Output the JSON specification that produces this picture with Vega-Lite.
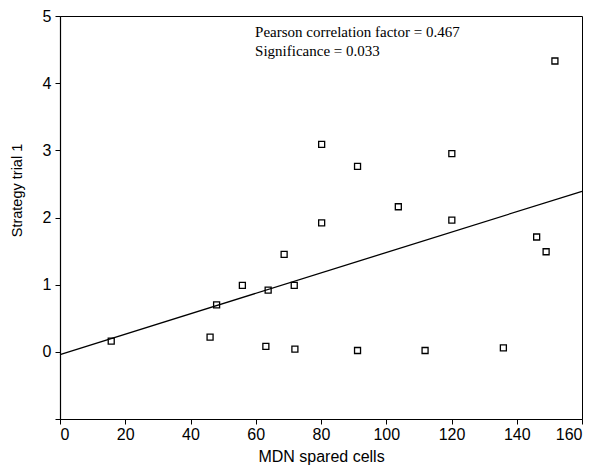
{
  "$schema": "https://vega.github.io/schema/vega-lite/v6.json",
  "autosize": "none",
  "padding": {"left": 60, "top": 16, "right": 20, "bottom": 48},
  "width": 522,
  "height": 403,
  "background": "white",
  "config": {
    "view": {"stroke": "black", "strokeWidth": 1},
    "axis": {
      "grid": false,
      "domainColor": "black",
      "tickColor": "black",
      "labelColor": "black",
      "titleColor": "black",
      "labelFont": "Liberation Sans",
      "titleFont": "Liberation Sans",
      "labelFontSize": 16,
      "titleFontSize": 15,
      "titleFontWeight": "normal",
      "tickSize": 5,
      "domainWidth": 1.2,
      "tickWidth": 1
    }
  },
  "datasets": {
    "pts": [
      {"cells": 15.7, "strategy": 0.16},
      {"cells": 46.0, "strategy": 0.22},
      {"cells": 48.0, "strategy": 0.70},
      {"cells": 55.9, "strategy": 0.99},
      {"cells": 63.1, "strategy": 0.08},
      {"cells": 63.8, "strategy": 0.92},
      {"cells": 68.7, "strategy": 1.45},
      {"cells": 71.8, "strategy": 0.99},
      {"cells": 72.0, "strategy": 0.04},
      {"cells": 80.2, "strategy": 3.09},
      {"cells": 80.2, "strategy": 1.92},
      {"cells": 91.2, "strategy": 2.76},
      {"cells": 91.2, "strategy": 0.02},
      {"cells": 103.7, "strategy": 2.16},
      {"cells": 111.9, "strategy": 0.02},
      {"cells": 120.1, "strategy": 2.95},
      {"cells": 120.1, "strategy": 1.96},
      {"cells": 135.9, "strategy": 0.06},
      {"cells": 146.1, "strategy": 1.71},
      {"cells": 149.0, "strategy": 1.49},
      {"cells": 151.7, "strategy": 4.33}
    ],
    "fit": [
      {"cells": 0, "strategy": -0.04},
      {"cells": 160, "strategy": 2.39}
    ]
  },
  "layer": [
    {
      "data": {"name": "fit"},
      "mark": {"type": "line", "color": "black", "strokeWidth": 1.3},
      "encoding": {
        "x": {"field": "cells", "type": "quantitative", "scale": {"domain": [0, 160], "nice": false},
          "axis": {"values": [0, 20, 40, 60, 80, 100, 120, 140, 160], "format": "d", "title": "MDN spared cells", "titleFontSize": 16, "labelPadding": 2, "titlePadding": 6}},
        "y": {"field": "strategy", "type": "quantitative", "scale": {"domain": [-1, 5], "nice": false, "zero": false},
          "axis": {"values": [-1, 0, 1, 2, 3, 4, 5], "format": "d", "labelExpr": "datum.value < 0 ? '' : datum.label", "title": "Strategy trial 1", "titleFontSize": 14.5, "titleY": 174, "titleX": -36, "labelPadding": 4}}
      }
    },
    {
      "data": {"name": "pts"},
      "mark": {"type": "point", "shape": "square", "filled": false, "color": "black", "strokeWidth": 1.3, "size": 36, "opacity": 1},
      "encoding": {
        "x": {"field": "cells", "type": "quantitative"},
        "y": {"field": "strategy", "type": "quantitative"}
      }
    },
    {
      "data": {"values": [{}]},
      "mark": {"type": "text", "align": "left", "baseline": "top", "font": "Liberation Serif", "fontSize": 15, "lineHeight": 19, "color": "black"},
      "encoding": {
        "x": {"datum": 59.8},
        "y": {"datum": 4.86},
        "text": {"value": ["Pearson correlation factor = 0.467", "Significance = 0.033"]}
      }
    }
  ]
}
